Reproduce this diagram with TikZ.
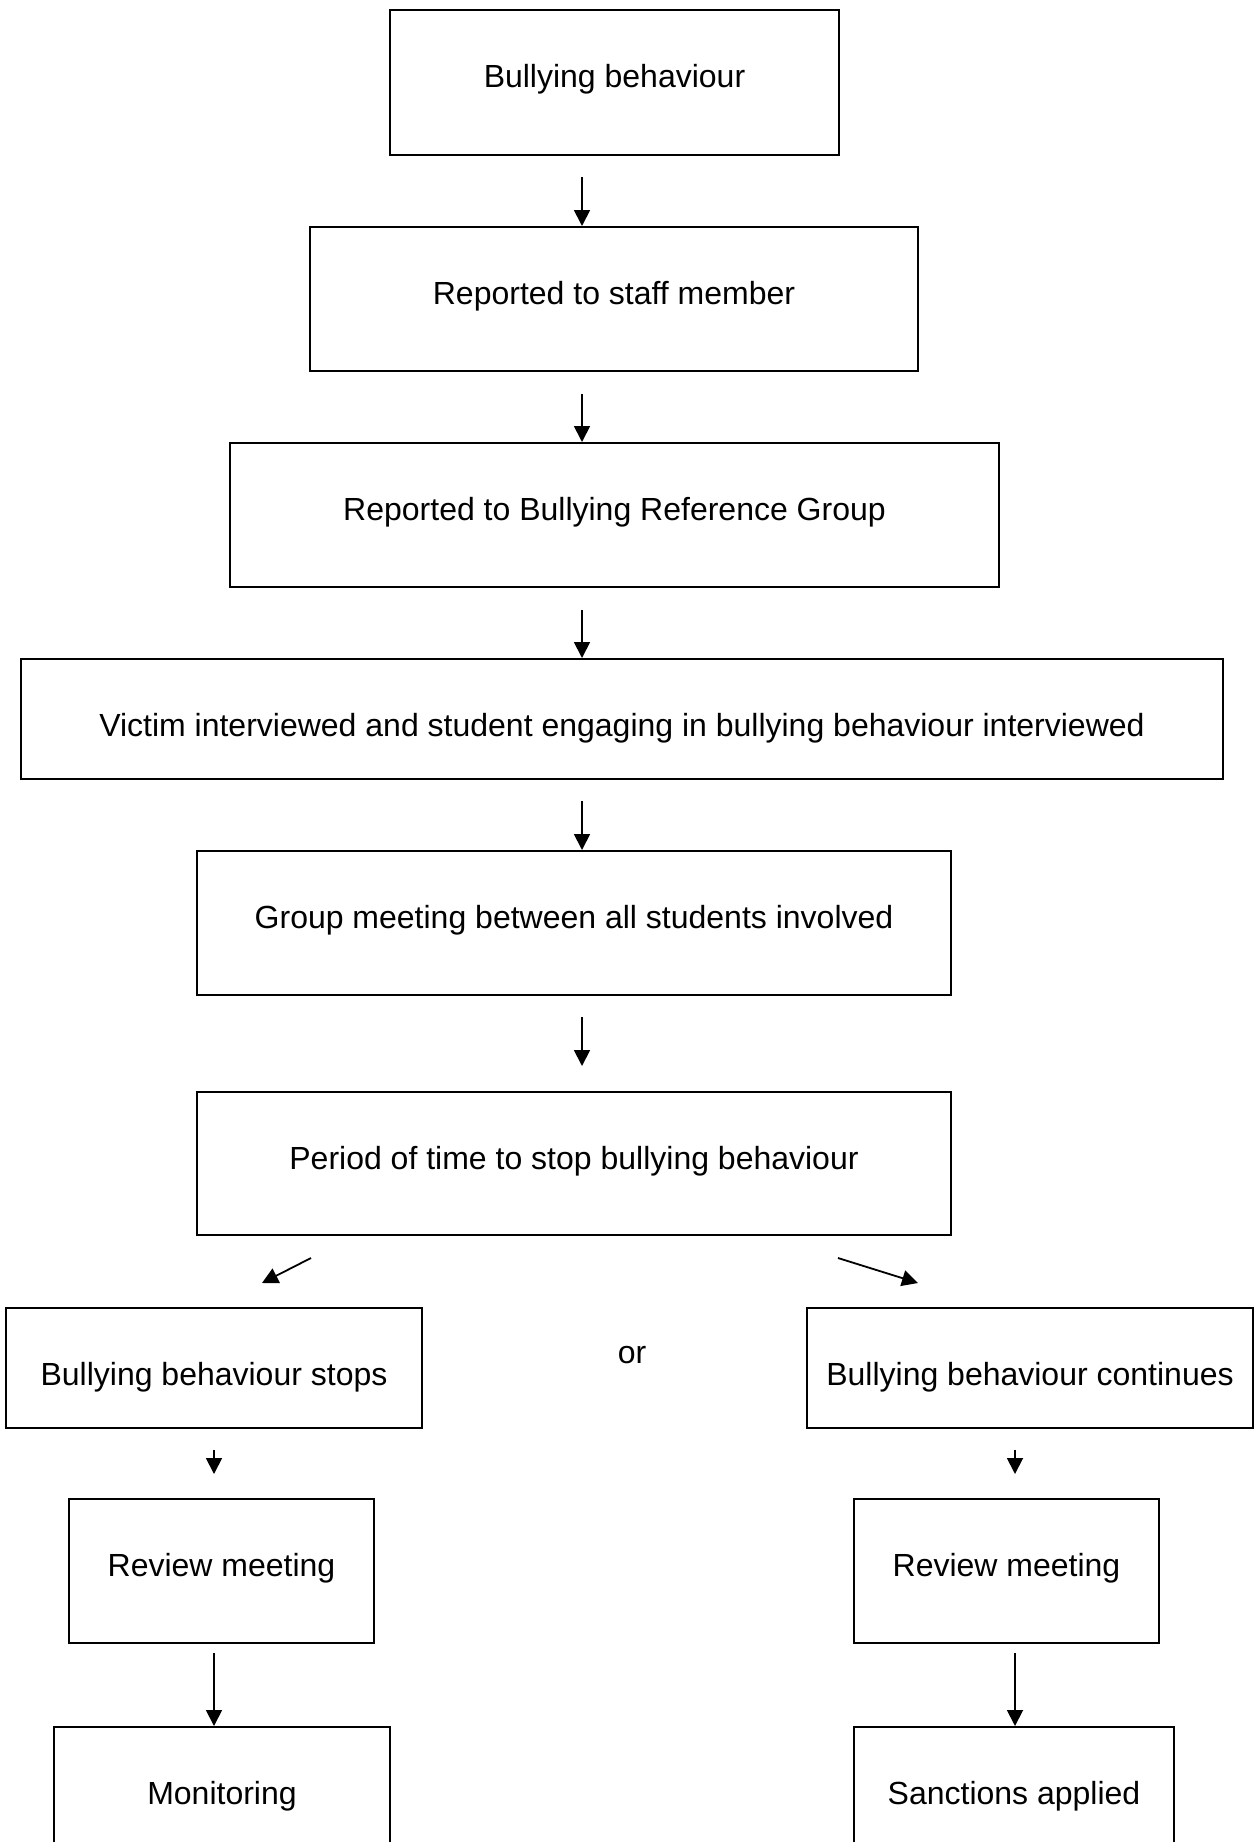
\documentclass[tikz,border=0pt]{standalone}
\usepackage{fontspec}
\setmainfont{Liberation Sans}
\usetikzlibrary{arrows.meta}
\begin{document}
\begin{tikzpicture}[x=1pt,y=-1pt,
  box/.style={draw, line width=1.8pt, anchor=north, inner xsep=0pt, inner ysep=0pt,
    text height=78pt, font=\fontsize{32}{38}\selectfont},
  arr/.style={line width=1.8pt, -{Triangle[length=16pt,width=16pt]}}]
\useasboundingbox (0,0) rectangle (1255,1842);
\clip (0,0) rectangle (1255,1842);
% boxes
\node[box, minimum width=449pt, text depth=67pt] (b1) at (614.5,9) {Bullying behaviour};
\node[box, minimum width=608pt, text depth=66pt] (b2) at (614,226) {Reported to staff member};
\node[box, minimum width=769pt, text depth=66pt] (b3) at (614.5,442) {Reported to Bullying Reference Group};
\node[box, minimum width=1202pt, text depth=42pt] (b4) at (622,658) {Victim interviewed and student engaging in bullying behaviour interviewed};
\node[box, minimum width=754pt, text depth=66pt] (b5) at (574,850) {Group meeting between all students involved};
\node[box, minimum width=754pt, text depth=65pt] (b6) at (574,1091) {Period of time to stop bullying behaviour};
\node[box, minimum width=416pt, text depth=42pt] (b7) at (214,1307) {Bullying behaviour stops};
\node[box, minimum width=446pt, text depth=42pt] (b8) at (1030,1307) {Bullying behaviour continues};
\node[box, minimum width=305pt, text depth=66pt] (b9) at (221.5,1498) {Review meeting};
\node[box, minimum width=305pt, text depth=66pt] (b10) at (1006.5,1498) {Review meeting};
\node[box, minimum width=336pt, text depth=66pt] (b11) at (222,1726) {Monitoring};
\node[box, minimum width=320pt, text depth=66pt] (b12) at (1014,1726) {Sanctions applied};
\node[font=\fontsize{32}{38}\selectfont] (ortext) at (632,1355) {or};
% connector free ends
\coordinate (s1) at (582,177);
\coordinate (s2) at (582,394);
\coordinate (s3) at (582,610);
\coordinate (s4) at (582,801);
\coordinate (s5) at (582,1017);
\coordinate (e5) at (582,1066);
\coordinate (sl) at (311,1258);
\coordinate (el) at (262,1283);
\coordinate (sr) at (838,1258);
\coordinate (er) at (918,1283);
\coordinate (s7) at (214,1450);
\coordinate (e7) at (214,1474);
\coordinate (s8) at (1015,1450);
\coordinate (e8) at (1015,1474);
\coordinate (s9) at (214,1653);
\coordinate (s10) at (1015,1653);
% connectors
\draw[arr] (s1) -- (s1 |- b2.north);
\draw[arr] (s2) -- (s2 |- b3.north);
\draw[arr] (s3) -- (s3 |- b4.north);
\draw[arr] (s4) -- (s4 |- b5.north);
\draw[arr] (s5) -- (e5);
\draw[arr] (sl) -- (el);
\draw[arr] (sr) -- (er);
\draw[arr] (s7) -- (e7);
\draw[arr] (s8) -- (e8);
\draw[arr] (s9) -- (s9 |- b11.north);
\draw[arr] (s10) -- (s10 |- b12.north);
\end{tikzpicture}
\end{document}
